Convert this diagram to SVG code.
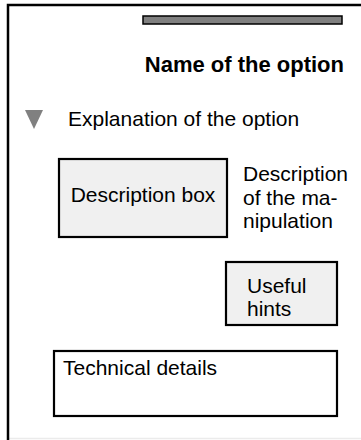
<svg xmlns="http://www.w3.org/2000/svg" width="361" height="440" viewBox="0 0 361 440">
<style>
text{font-family:"Liberation Sans",Arial,sans-serif;font-size:21px;fill:#000}
.title{font-weight:bold;font-size:22px}
.box{fill:#f0f0f0;stroke:#000;stroke-width:2.2}
.wbox{fill:#fff;stroke:#000;stroke-width:2.2}
</style>
<rect x="0" y="0" width="361" height="440" fill="#fff"/>
<g id="frame">
<line x1="9" y1="438.5" x2="361" y2="438.5" stroke="#ebebeb" stroke-width="1.5"/>
<path d="M8 440 V5 H361" fill="none" stroke="#000" stroke-width="2.5"/>
<rect x="143" y="16" width="199" height="8" fill="#808080" stroke="#000" stroke-width="1.5"/>
</g>
<g id="title">
<text class="title" x="344" y="72" text-anchor="end">Name of the option</text>
</g>
<g id="explanation">
<polygon points="25,110 43,110 34,129" fill="#808080"/>
<text x="68" y="126">Explanation of the option</text>
</g>
<g id="description-box">
<rect class="box" x="59" y="159" width="168" height="78"/>
<text x="143" y="202" text-anchor="middle">Description box</text>
</g>
<g id="description-text">
<text x="243" y="181">Description</text>
<text x="243" y="205">of the ma-</text>
<text x="243" y="228">nipulation</text>
</g>
<g id="useful-hints">
<rect class="box" x="226" y="262" width="111" height="63"/>
<text x="247" y="293">Useful</text>
<text x="247" y="316">hints</text>
</g>
<g id="technical-details">
<rect class="wbox" x="54" y="351" width="283" height="65"/>
<text x="63" y="375">Technical details</text>
</g>
<g id="connectors"></g>
</svg>
